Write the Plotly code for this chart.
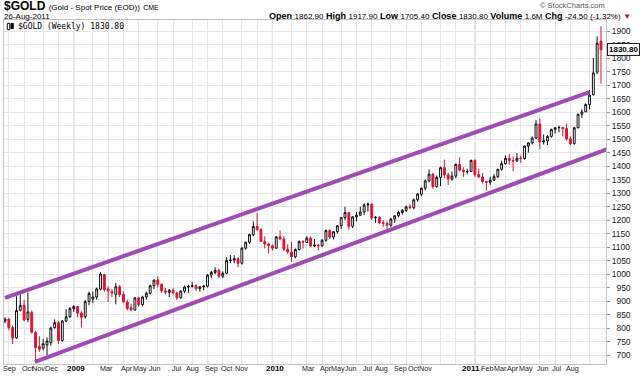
import pandas as pd
import plotly.graph_objects as go

# Weekly bars (Fridays) from 29-Aug-2008 to 26-Aug-2011
dates = pd.date_range("2008-08-29", "2011-08-26", freq="W-FRI")

opens = [826, 833, 802, 764, 866, 884, 832, 858, 784, 732, 726, 738, 746, 802, 820, 754, 826, 842,
         872, 880, 856, 842, 898, 908, 915, 944, 998, 945, 935, 925, 953, 924, 897, 876, 867, 912,
         887, 915, 929, 957, 978, 962, 938, 932, 940, 930, 912, 937, 952, 954, 957, 946, 953, 955,
         996, 1006, 1014, 992, 1003, 1050, 1052, 1057, 1040, 1096, 1118, 1146, 1176, 1165, 1121, 1111,
         1105, 1096, 1138, 1130, 1092, 1082, 1064, 1091, 1120, 1117, 1133, 1104, 1107, 1105, 1125, 1161,
         1137, 1157, 1179, 1209, 1228, 1177, 1212, 1218, 1230, 1256, 1259, 1208, 1210, 1190, 1188, 1181,
         1204, 1216, 1228, 1236, 1249, 1246, 1275, 1296, 1318, 1345, 1370, 1324, 1358, 1394, 1367, 1352,
         1363, 1406, 1385, 1379, 1380, 1421, 1369, 1360, 1343, 1340, 1348, 1361, 1388, 1409, 1429, 1420,
         1419, 1430, 1428, 1474, 1486, 1504, 1556, 1490, 1493, 1510, 1536, 1542, 1543, 1539, 1501, 1483,
         1542, 1592, 1601, 1628, 1665, 1748, 1862.9]
highs = [840, 838, 810, 918, 925, 905, 932, 865, 790, 770, 760, 765, 806, 832, 826, 830, 870, 878,
         885, 882, 862, 905, 935, 935, 950, 1007, 1000, 955, 945, 968, 960, 935, 905, 890, 915, 916,
         920, 935, 960, 980, 992, 965, 948, 945, 948, 935, 940, 958, 960, 970, 962, 955, 960, 1000,
         1012, 1025, 1020, 1010, 1062, 1070, 1070, 1062, 1100, 1120, 1150, 1195, 1227, 1170, 1140, 1115,
         1110, 1140, 1162, 1140, 1110, 1120, 1095, 1125, 1125, 1140, 1140, 1130, 1112, 1130, 1165, 1166,
         1158, 1180, 1210, 1249, 1230, 1215, 1230, 1250, 1262, 1265, 1262, 1215, 1215, 1200, 1195, 1207,
         1216, 1235, 1240, 1254, 1259, 1280, 1300, 1320, 1350, 1387, 1375, 1365, 1398, 1424, 1375, 1380,
         1410, 1432, 1395, 1390, 1424, 1425, 1390, 1375, 1345, 1360, 1370, 1390, 1420, 1440, 1445, 1436,
         1448, 1440, 1476, 1488, 1510, 1570, 1577, 1517, 1515, 1538, 1545, 1550, 1546, 1557, 1510, 1545,
         1594, 1610, 1632, 1682, 1800, 1881, 1917.9]
lows = [818, 792, 741, 760, 862, 825, 822, 780, 672, 712, 718, 700, 735, 798, 742, 750, 822, 838,
        860, 840, 802, 835, 885, 893, 905, 940, 935, 897, 915, 888, 915, 893, 865, 862, 865, 880,
        880, 905, 925, 945, 950, 930, 925, 915, 925, 905, 910, 930, 930, 950, 938, 935, 940, 950,
        985, 1000, 985, 985, 1000, 1040, 1040, 1025, 1035, 1090, 1112, 1140, 1160, 1120, 1095, 1076,
        1087, 1093, 1125, 1085, 1075, 1045, 1058, 1088, 1095, 1115, 1100, 1100, 1088, 1100, 1120, 1130,
        1128, 1150, 1168, 1200, 1165, 1170, 1195, 1215, 1218, 1232, 1200, 1190, 1185, 1175, 1157, 1175,
        1190, 1210, 1220, 1230, 1240, 1240, 1268, 1288, 1310, 1340, 1316, 1320, 1326, 1355, 1330, 1346,
        1355, 1380, 1360, 1370, 1378, 1360, 1355, 1336, 1309, 1330, 1345, 1356, 1383, 1405, 1405, 1381,
        1415, 1412, 1424, 1450, 1480, 1500, 1462, 1480, 1478, 1505, 1520, 1525, 1510, 1495, 1478, 1480,
        1540, 1578, 1600, 1610, 1660, 1740, 1705.4]
closes = [833, 802, 763, 865, 884, 830, 860, 785, 728, 722, 742, 752, 800, 820, 754, 826, 842, 872,
          880, 855, 840, 898, 928, 915, 945, 1000, 943, 938, 930, 953, 924, 897, 872, 868, 912, 887,
          915, 929, 957, 978, 962, 938, 933, 940, 930, 912, 937, 952, 954, 957, 946, 953, 955, 996,
          1006, 1014, 992, 1003, 1050, 1052, 1057, 1040, 1096, 1118, 1146, 1176, 1165, 1121, 1111, 1105,
          1096, 1138, 1130, 1092, 1082, 1064, 1091, 1120, 1118, 1133, 1104, 1107, 1105, 1125, 1161, 1137,
          1157, 1179, 1209, 1228, 1177, 1212, 1218, 1230, 1256, 1259, 1208, 1210, 1190, 1188, 1181, 1204,
          1216, 1228, 1236, 1249, 1246, 1275, 1296, 1318, 1345, 1370, 1324, 1358, 1394, 1367, 1352, 1363,
          1406, 1385, 1379, 1380, 1421, 1369, 1360, 1343, 1340, 1348, 1361, 1388, 1409, 1429, 1420, 1419,
          1429, 1428, 1474, 1486, 1504, 1556, 1490, 1493, 1510, 1536, 1542, 1543, 1539, 1501, 1483, 1542,
          1592, 1601, 1628, 1663, 1745, 1855.3, 1830.8]

# Trend channel (hand-drawn lines)
upper_dates = ["2008-08-29", "2011-08-05"]
upper_vals = [912, 1674]
lower_dates = ["2008-10-23", "2011-09-08"]
lower_vals = [675, 1464]

# Month gridlines sit on the first weekly bar of each month
first_bars = pd.Series(dates).groupby([dates.year, dates.month]).min().tolist()
month_ticks = first_bars[1:]  # Sep 2008 .. Aug 2011
year_lines = [d for d in month_ticks if d.month == 1]

# Month / year labels along the bottom
month_labels = ["Sep", "Oct", "Nov", "Dec", "2009", "Mar", "Apr", "May", "Jun", "Jul", "Aug",
                "Sep", "Oct", "Nov", "2010", "Mar", "Apr", "May", "Jun", "Jul", "Aug", "Sep",
                "Oct", "Nov", "2011", "Feb", "Mar", "Apr", "May", "Jun", "Jul", "Aug"]
# label centres, in pixels from the left of the picture
label_px = [9.5, 27, 38.5, 51, 76, 106.5, 127, 140, 155, 177, 192, 211, 226.5, 241, 275,
            308, 326, 338, 351, 368, 381, 400, 413, 425, 471, 487, 500.5, 513, 526, 543, 557, 572]
y_ticks = list(range(700, 1901, 50))
y_ticktext = [("\u2007" + str(v)) if v < 1000 else str(v) for v in y_ticks]

RED = "#e0142e"
PURPLE = "#a04cb6"
FONT = "Liberation Sans, Arial, sans-serif"
PLOT_L, PLOT_W = 4, 602

fig = go.Figure()
fig.add_trace(go.Candlestick(
    x=dates, open=opens, high=highs, low=lows, close=closes,
    increasing=dict(line=dict(color="#111111", width=1), fillcolor="#ffffff"),
    decreasing=dict(line=dict(color=RED, width=1), fillcolor=RED),
    showlegend=False, hoverinfo="skip"))
fig.add_trace(go.Scatter(x=upper_dates, y=upper_vals, mode="lines",
                         line=dict(color=PURPLE, width=4), showlegend=False, hoverinfo="skip"))
fig.add_trace(go.Scatter(x=lower_dates, y=lower_vals, mode="lines",
                         line=dict(color=PURPLE, width=4), showlegend=False, hoverinfo="skip"))

shapes = []
for d in year_lines:
    shapes.append(dict(type="line", xref="x", yref="paper", x0=d, x1=d, y0=0, y1=1,
                       line=dict(color="#b4b4b4", width=1), layer="below"))
# tiny candle icon in the in-plot legend
shapes.append(dict(type="rect", xref="paper", yref="paper", x0=0.0055, x1=0.0095, y0=0.972, y1=0.99,
                   line=dict(color="#111", width=1), fillcolor="#fff"))
shapes.append(dict(type="rect", xref="paper", yref="paper", x0=0.0115, x1=0.0155, y0=0.975, y1=0.99,
                   line=dict(color="#111", width=1), fillcolor="#111"))

annotations = [
    dict(xref="paper", yref="paper", x=-0.0035, y=1.041, xanchor="left", yanchor="middle",
         showarrow=False, align="left",
         text="<b>$GOLD</b> <span style='font-size:8px'>(Gold - Spot Price (EOD))</span> "
              "<span style='font-size:7px'>CME</span>",
         font=dict(family=FONT, size=12, color="#000")),
    dict(xref="paper", yref="paper", x=-0.0035, y=1.011, xanchor="left", yanchor="middle",
         showarrow=False, text="26-Aug-2011", font=dict(family=FONT, size=8, color="#000")),
    dict(xref="paper", yref="paper", x=1.045, y=1.011, xanchor="right", yanchor="middle",
         showarrow=False,
         text="<b>Open</b> <span style='font-size:8px'>1862.90</span> "
              "<b>High</b> <span style='font-size:8px'>1917.90</span> "
              "<b>Low</b> <span style='font-size:8px'>1705.40</span> "
              "<b>Close</b> <span style='font-size:8px'>1830.80</span> "
              "<b>Volume</b> <span style='font-size:8px'>1.6M</span> "
              "<b>Chg</b> <span style='font-size:8px'>-24.50 (-1.32%)</span> "
              "<span style='color:#d0102a;font-size:8px'>▼</span>",
         font=dict(family=FONT, size=9, color="#000")),
    dict(xref="paper", yref="paper", x=1.002, y=1.042, xanchor="right", yanchor="middle",
         showarrow=False, text="© StockCharts.com", font=dict(family=FONT, size=7.5, color="#555")),
    dict(xref="paper", yref="paper", x=0.02, y=0.982, xanchor="left", yanchor="middle",
         showarrow=False, text="$GOLD (Weekly) 1830.80",
         font=dict(family="DejaVu Sans Mono, monospace", size=8, color="#000")),
    dict(xref="paper", yref="y", x=1.002, y=closes[-1], xanchor="left", yanchor="middle",
         showarrow=False, text="<b>1830.80</b>", bgcolor="#ffffff", bordercolor="#222",
         borderwidth=1, borderpad=1, font=dict(family=FONT, size=8, color="#000")),
]
for lab, px in zip(month_labels, label_px):
    is_year = lab.isdigit()
    annotations.append(dict(xref="paper", yref="paper", x=(px - PLOT_L) / PLOT_W, y=-0.0135,
                            xanchor="center", yanchor="middle", showarrow=False, borderpad=0,
                            text=f"<b>{lab}</b>" if is_year else lab,
                            font=dict(family=FONT, size=8 if is_year else 7.2,
                                      color="#000" if is_year else "#222")))

fig.update_layout(
    width=640, height=376,
    margin=dict(l=PLOT_L, r=640 - PLOT_L - PLOT_W, t=20, b=12, autoexpand=False),
    paper_bgcolor="#ffffff", plot_bgcolor="#ffffff",
    showlegend=False,
    shapes=shapes, annotations=annotations,
    xaxis=dict(type="date", range=["2008-08-27 04:00", "2011-09-04 05:00"],
               rangeslider=dict(visible=False), automargin=False,
               tickvals=month_ticks, showticklabels=False,
               showgrid=True, gridcolor="#e6e6e6", gridwidth=1,
               ticks="", showline=True, linecolor="#c4c4c4", mirror=True, zeroline=False),
    yaxis=dict(side="right", range=[667, 1941], tickvals=y_ticks, ticktext=y_ticktext,
               automargin=False, ticklabeloverflow="allow",
               tickfont=dict(family=FONT, size=8.5, color="#222"),
               showgrid=True, gridcolor="#e6e6e6", gridwidth=1,
               ticks="outside", ticklen=3, tickcolor="#999",
               showline=True, linecolor="#c4c4c4", mirror=True, zeroline=False),
)

fig.write_html("out.html", config={"displayModeBar": False},
               post_script="document.body.style.margin='0px';document.body.style.padding='0px';")
